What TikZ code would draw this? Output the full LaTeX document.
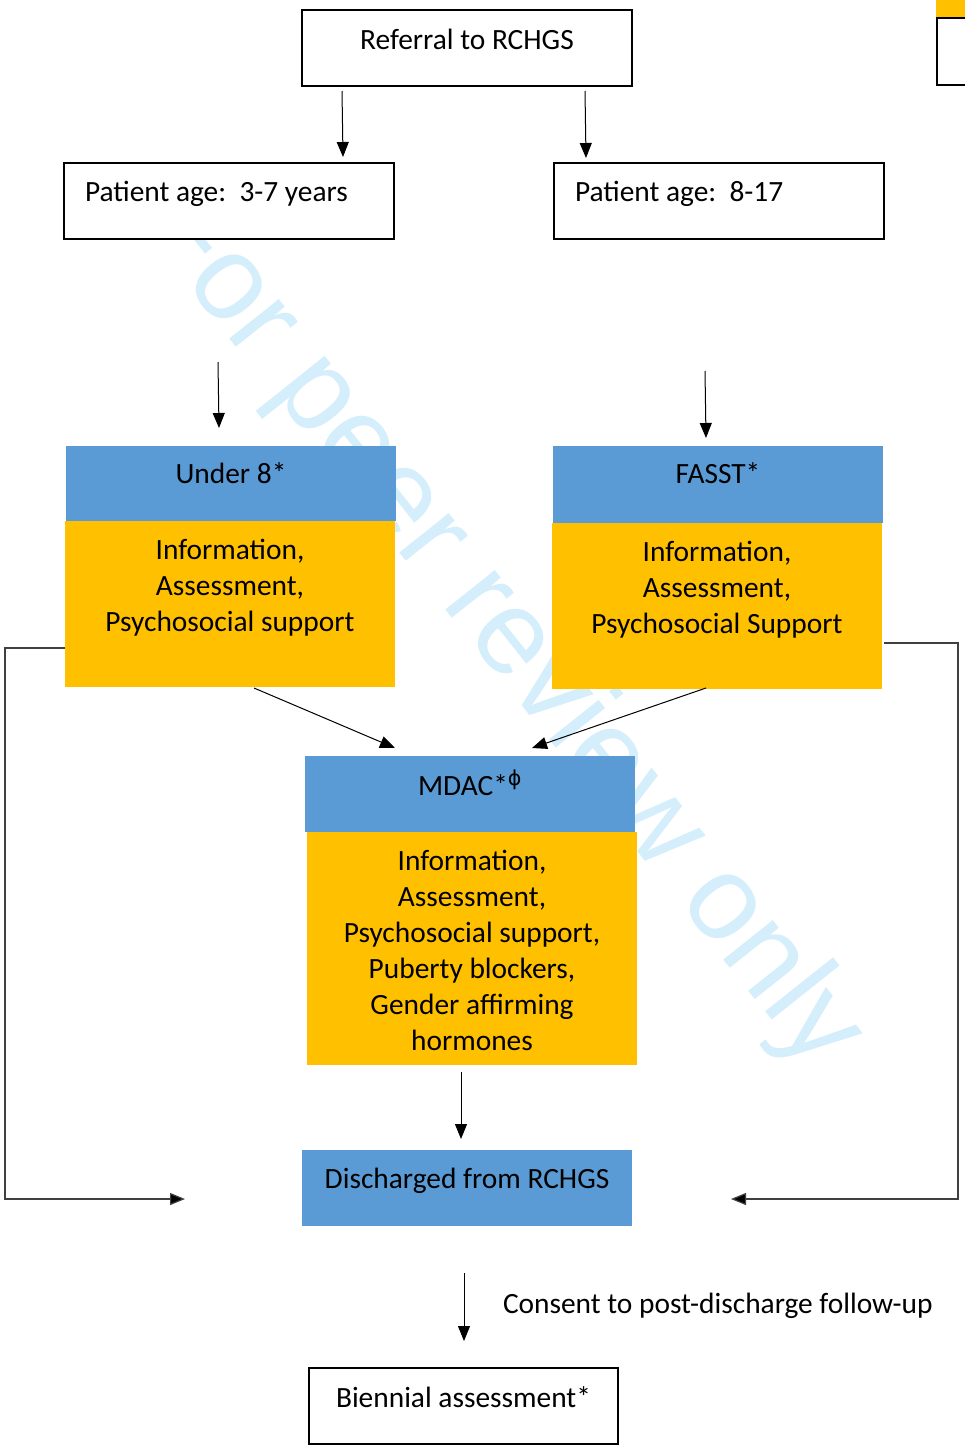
\documentclass[tikz,border=0pt]{standalone}
\usepackage{fontspec}
\setmainfont{Carlito}
\newfontfamily\wmfont{Liberation Sans}
\newfontfamily\greekfont{DejaVu Sans}
\usetikzlibrary{arrows.meta,calc}
\definecolor{hdrblue}{HTML}{5B9BD5}
\definecolor{bodyorange}{HTML}{FFC000}
\definecolor{wmblue}{RGB}{213,238,251}
\begin{document}
\begin{tikzpicture}[x=1pt,y=-1pt,
  every node/.style={inner sep=0pt, outer sep=0pt},
  boxbase/.style={anchor=north west, minimum width=330pt, minimum height=76pt},
  outlinebox/.style={boxbase, draw=black, line width=1.6pt, fill=white},
  headbox/.style={boxbase, fill=hdrblue},
  bodybox/.style={anchor=north west, minimum width=330pt, fill=bodyorange},
  txt/.style={font=\fontsize{29.4}{36}\selectfont, text=black, align=center, anchor=base},
  arr/.style={line width=1pt, -{Triangle[length=15pt,width=12pt]}},
  sideloop/.style={line width=1.2pt, draw=black!75, -{Triangle[length=15pt,width=12pt,fill=black]}}
]
\useasboundingbox (0,0) rectangle (964,1447);

% watermark
\node[font=\wmfont\fontsize{120}{120}\selectfont, text=wmblue, rotate=-51.5, anchor=base] (wm) at (476,648) {For peer review only};

% partial shapes at top right
\node[anchor=north west, fill=bodyorange, minimum width=40pt, minimum height=23pt] (cutfill) at (936,-5) {};
\node[anchor=north west, draw=black, line width=1.6pt, minimum width=50pt, minimum height=67pt] (cutbox) at (937,18) {};

% boxes
\node[outlinebox] (ref) at (302,10) {};
\node[outlinebox] (young) at (64,163) {};
\node[outlinebox] (older) at (554,163) {};
\node[headbox, minimum height=75pt] (u8h) at (66,446) {};
\node[bodybox, minimum height=166pt] (u8b) at (65,521) {};
\node[headbox, minimum height=77pt] (fah) at (553,446) {};
\node[bodybox, minimum height=166pt] (fab) at (552,523) {};
\node[headbox] (mdh) at (305,756) {};
\node[bodybox, minimum height=233pt] (mdb) at (307,832) {};
\node[headbox] (dis) at (302,1150) {};
\node[outlinebox, minimum width=309pt] (bien) at (309,1368) {};

% texts (multi-line nodes: base anchor = baseline of last line)
\node[txt] (reft) at ([yshift=-40pt]ref.north) {Referral to RCHGS};
\node[txt, anchor=base west] (youngt) at ($(young.north west)+(21,39)$) {Patient age:\ \ 3-7 years};
\node[txt, anchor=base west] (oldert) at ($(older.north west)+(21,39)$) {Patient age:\ \ 8-17};
\node[txt] (u8ht) at ([yshift=-37pt]u8h.north) {Under 8*};
\node[txt] (u8bt) at ([yshift=-110pt]u8b.north) {Information,\\Assessment,\\Psychosocial support};
\node[txt] (faht) at ([yshift=-37pt]fah.north) {FASST*};
\node[txt] (fabt) at ([yshift=-110pt]fab.north) {Information,\\Assessment,\\Psychosocial Support};
\node[txt] (mdht) at ([yshift=-39pt]mdh.north) {MDAC*\textsuperscript{\greekfont ϕ}};
\node[txt] (mdbt) at ([yshift=-218pt]mdb.north) {Information,\\Assessment,\\Psychosocial support,\\Puberty blockers,\\Gender affirming\\hormones};
\node[txt] (dist) at ([yshift=-38pt]dis.north) {Discharged from RCHGS};
\node[txt] (bient) at ([yshift=-39pt]bien.north) {Biennial assessment*};

% connectors
\draw[arr] ($(ref.south west)+(40,5)$) -- ($(young.north west)+(279,-6)$);
\draw[arr] ($(ref.south west)+(283,5)$) -- ($(older.north west)+(32,-5)$);
\draw[arr] ($(young.south west)+(154,123)$) -- ($(u8h.north west)+(153,-18)$);
\draw[arr] ($(older.south west)+(151,132)$) -- ($(fah.north west)+(153,-8)$);
\draw[arr] ($(u8b.south west)+(189,1)$) -- ($(mdh.north west)+(90,-8)$);
\draw[arr] ($(fab.south west)+(154,-1)$) -- ($(mdh.north west)+(227,-8)$);
\draw[arr] ($(mdb.south west)+(154,7)$) -- ($(dis.north west)+(159,-11)$);
\draw[sideloop] ($(u8b.north west)+(0,127)$) -| (5,1199) -- ($(dis.south west)+(-117,-27)$);
\draw[sideloop] ($(fab.north east)+(2,120)$) -| (958,1199) -- ($(dis.south east)+(99,-27)$);
\draw[arr] ($(dis.south west)+(162,47)$) -- ($(bien.north west)+(155,-27)$);
\node[txt, anchor=base west] (consent) at (503,1313) {Consent to post-discharge follow-up};
\end{tikzpicture}
\end{document}
